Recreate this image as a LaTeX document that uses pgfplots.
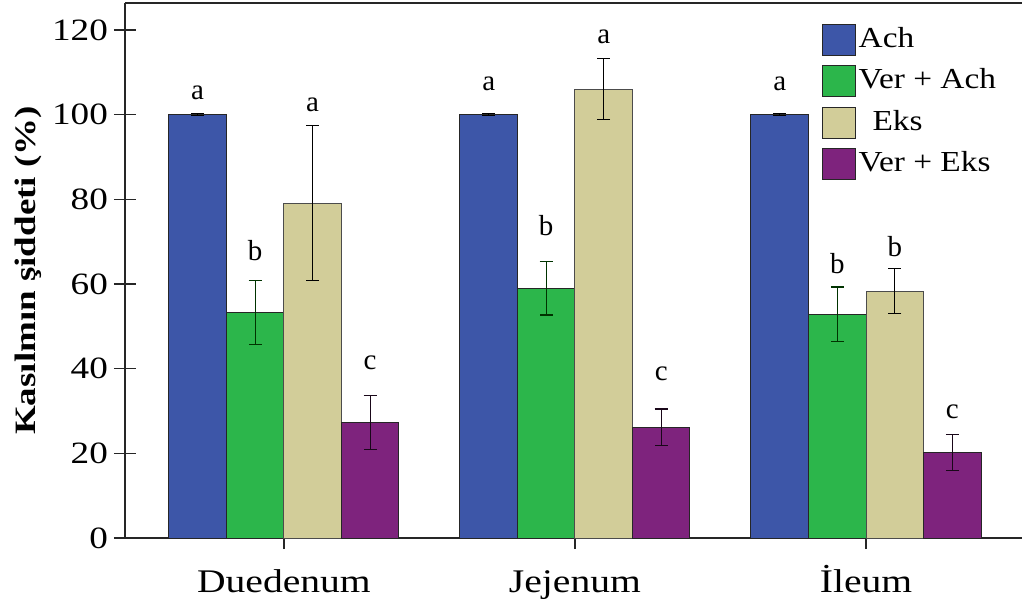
\documentclass[border=0pt]{standalone}
\usepackage{pgfplots}
\pgfplotsset{compat=1.18}
\usepackage{fontspec}
\setmainfont{Liberation Serif}
\usetikzlibrary{calc}
\definecolor{cAch}{RGB}{61,86,168}
\definecolor{cVerAch}{RGB}{44,182,75}
\definecolor{cEks}{RGB}{210,205,153}
\definecolor{cVerEks}{RGB}{126,35,125}
\tikzset{emk/.style={line width=0.6pt, mark size=3.25pt, rotate=90}}
\begin{document}
\begin{tikzpicture}
\begin{axis}[
  name=ax,
  scale only axis,
  width=448.5pt, height=267.5pt,
  xmin=-0.546, xmax=2.536,
  ymin=0, ymax=126.4,
  axis x line*=bottom, axis y line*=left,
  axis line style={-, line width=0.6pt, black!85},
  tick style={line width=0.6pt, black!85},
  tick align=center,
  major tick length=11pt,
  xtick={0,1,2},
  xticklabels={Duedenum, Jejenum, İleum},
  ytick={0,20,40,60,80,100,120},
  /pgf/number format/assume math mode=true,
  yticklabel style={font=\fontsize{15.5}{18}\selectfont, xscale=1.2, anchor=east, xshift=1pt},
  xticklabel style={font=\fontsize{16.5}{19}\selectfont, xscale=1.2, anchor=base, yshift=-21.5pt},
  ylabel={\bfseries Kasılmın şiddeti (\%)},
  every axis y label/.style={at={(axis description cs:-0.1003,0.5)}, anchor=base, rotate=90, xscale=1.25, font=\fontsize{14.8}{17}\selectfont},
  legend style={at={(axis description cs:0.777,0.9626)}, anchor=north west, draw=none, fill=none, inner sep=0pt, row sep=4.25pt,
    font=\fontsize{14.5}{17}\selectfont, nodes={inner sep=1pt, text height=11pt, text depth=3.5pt, xscale=1.15}},
  legend cell align=left,
  legend image code/.code={\draw[#1, draw=black!85, line width=0.5pt] (0pt,-7.75pt) rectangle (16.5pt,7.75pt);},
  clip=false,
]
\addplot[ybar, bar width=28.75pt, bar shift=0pt, fill=cAch, draw=black!85, line width=0.5pt,
  error bars/.cd, y dir=both, y explicit, error bar style={black, line width=0.6pt}, error mark options={black, emk}]
  coordinates {(-0.2964,100) +- (0,0.2) (0.7036,100) +- (0,0.2) (1.7036,100) +- (0,0.2)};
\addlegendentry{Ach}
\addplot[ybar, bar width=28.75pt, bar shift=0pt, fill=cVerAch, draw=black!85, line width=0.5pt,
  error bars/.cd, y dir=both, y explicit, error bar style={black!80!green, line width=0.6pt}, error mark options={black!80!green, emk}]
  coordinates {(-0.0988,53.3) +- (0,7.5) (0.9012,59.0) +- (0,6.3) (1.9012,52.9) +- (0,6.4)};
\addlegendentry{Ver + Ach}
\addplot[ybar, bar width=28.75pt, bar shift=0pt, fill=cEks, draw=black!70, line width=0.5pt,
  error bars/.cd, y dir=both, y explicit, error bar style={black, line width=0.6pt}, error mark options={black, emk}]
  coordinates {(0.0988,79.1) +- (0,18.3) (1.0988,106.0) +- (0,7.2) (2.0988,58.3) +- (0,5.3)};
\addlegendentry{\, Eks}
\addplot[ybar, bar width=28.75pt, bar shift=0pt, fill=cVerEks, draw=black!85, line width=0.5pt,
  error bars/.cd, y dir=both, y explicit, error bar style={black!80!cVerEks, line width=0.6pt}, error mark options={black!80!cVerEks, emk}]
  coordinates {(0.2964,27.3) +- (0,6.3) (1.2964,26.2) +- (0,4.3) (2.2964,20.2) +- (0,4.3)};
\addlegendentry{Ver + Eks}
\draw[line width=0.6pt, black!85] (rel axis cs:0,1) -- (rel axis cs:1,1);
\tikzset{lt/.style={font=\fontsize{14.5}{17}\selectfont, anchor=center, inner sep=0pt}}
\node[lt] at (axis cs:-0.2964,105.1) {a};
\node[lt] at (axis cs:-0.0988,68.0) {b};
\node[lt] at (axis cs:0.0988,102.3) {a};
\node[lt] at (axis cs:0.2964,41.3) {c};
\node[lt] at (axis cs:0.7036,107.4) {a};
\node[lt] at (axis cs:0.9012,73.9) {b};
\node[lt] at (axis cs:1.0988,118.4) {a};
\node[lt] at (axis cs:1.2964,38.9) {c};
\node[lt] at (axis cs:1.7036,107.4) {a};
\node[lt] at (axis cs:1.9012,64.9) {b};
\node[lt] at (axis cs:2.0988,68.8) {b};
\node[lt] at (axis cs:2.2964,29.8) {c};
\end{axis}
\pgfresetboundingbox
\path ($(ax.south west)+(-62.5pt,-31.5pt)$) rectangle ($(ax.north east)+(0pt,1.5pt)$);
\end{tikzpicture}
\end{document}
